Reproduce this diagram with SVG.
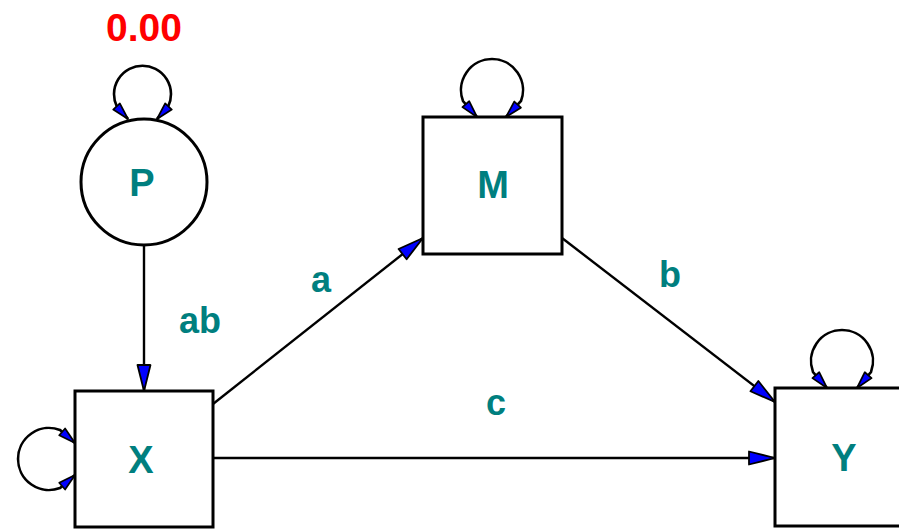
<svg xmlns="http://www.w3.org/2000/svg" width="899" height="529" viewBox="0 0 899 529">
  <style>
    .node { fill: #ffffff; stroke: #000000; stroke-width: 3; }
    .edge { fill: none; stroke: #000000; stroke-width: 2.4; marker-end: url(#head); }
    .loop { fill: none; stroke: #000000; stroke-width: 2.6; marker-start: url(#loophead); marker-end: url(#loophead); }
    .nlabel { font-family: "Liberation Sans", Arial, sans-serif; font-weight: bold; font-size: 38px; fill: #007f7f; text-anchor: middle; }
    .elabel { font-family: "Liberation Sans", Arial, sans-serif; font-weight: bold; font-size: 36px; fill: #007f7f; text-anchor: middle; }
    .value { font-family: "Liberation Sans", Arial, sans-serif; font-weight: bold; font-size: 39px; fill: #ff0000; text-anchor: middle; }
  </style>
  <defs>
    <marker id="head" markerUnits="userSpaceOnUse" viewBox="-30 -10 32 20" refX="0" refY="0" markerWidth="32" markerHeight="20" orient="auto" overflow="visible">
      <path d="M0,0 L-26,-6.5 L-26,6.5 Z" fill="#0000ff" stroke="#000000" stroke-width="1.8" stroke-linejoin="round"/>
    </marker>
    <marker id="loophead" markerUnits="userSpaceOnUse" viewBox="-20 -8 22 16" refX="0" refY="0" markerWidth="22" markerHeight="16" orient="auto-start-reverse" overflow="visible">
      <path d="M0,0 L-17,-4.5 L-17,4.5 Z" fill="#0000ff" stroke="#000000" stroke-width="1.7" stroke-linejoin="round"/>
    </marker>
  </defs>

  <!-- connectors -->
  <g id="connectors">
    <path class="edge" d="M144,245 L144,391"/>
    <path class="edge" d="M213,404 L423,238"/>
    <path class="edge" d="M562,238 L775,402"/>
    <path class="edge" d="M213,458 L775,458"/>
    <!-- self loops: tip, base, arc over, base, tip -->
    <path class="loop" d="M128,119 L117,107 A28.5,28.5 0 1 1 168,107 L157,119"/>
    <path class="loop" d="M477,117 L463,101 A31,31 0 1 1 521,101 L506,117"/>
    <path class="loop" d="M827,388 L813,372 A31,31 0 1 1 871,372 L857,388"/>
    <path class="loop" d="M75,443 L60,430 A31,31 0 1 0 60,488 L75,475"/>
    <text class="elabel" x="321" y="292">a</text>
    <text class="elabel" x="670" y="287">b</text>
    <text class="elabel" x="200" y="333">ab</text>
    <text class="elabel" x="496" y="415">c</text>
  </g>

  <g id="node-P">
    <circle class="node" cx="144" cy="182" r="63"/>
    <text class="nlabel" x="142" y="196">P</text>
    <text class="value" x="144" y="41">0.00</text>
  </g>
  <g id="node-M">
    <rect class="node" x="423" y="117" width="139" height="137"/>
    <text class="nlabel" x="493" y="198">M</text>
  </g>
  <g id="node-X">
    <rect class="node" x="75" y="391" width="138" height="136"/>
    <text class="nlabel" x="141" y="473">X</text>
  </g>
  <g id="node-Y">
    <rect class="node" x="775" y="388" width="138" height="138"/>
    <text class="nlabel" x="844" y="471">Y</text>
  </g>
</svg>
